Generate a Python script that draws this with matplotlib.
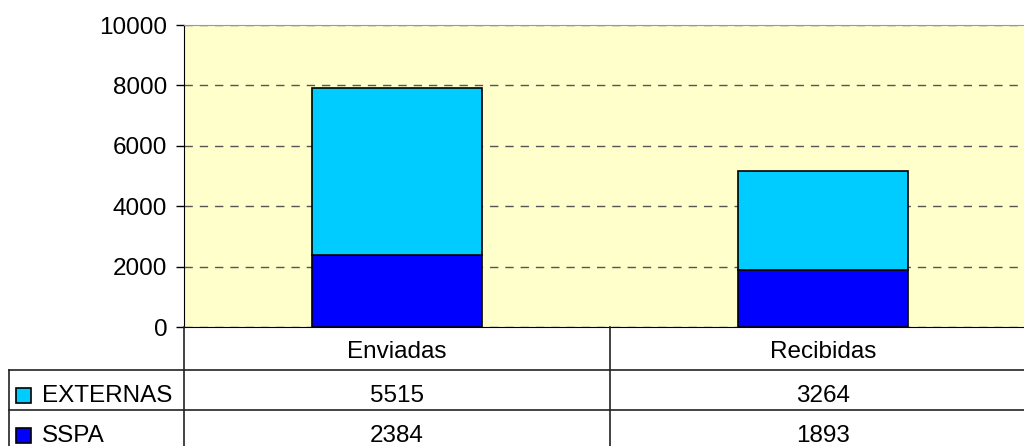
import matplotlib.pyplot as plt
from matplotlib.patches import Rectangle

plt.rcParams['font.family'] = ['Liberation Sans', 'DejaVu Sans']

categories = ['Enviadas', 'Recibidas']
series_names = ['EXTERNAS', 'SSPA']
externas = [5515, 3264]
sspa = [2384, 1893]
yticks = [0, 2000, 4000, 6000, 8000, 10000]

c_ext = '#00CCFF'
c_sspa = '#0000FF'
bg = '#FFFFCC'
fs = 17.5

W, H = 1024, 446
fig = plt.figure(figsize=(W / 100, H / 100), dpi=100)

# plot area in pixels: x 184..1036 (runs past the right edge), y 25..327
right = 1036
ax = fig.add_axes([184 / W, (H - 327) / H, (right - 184) / W, (327 - 25) / H])
ax.set_facecolor(bg)
x = list(range(len(categories)))
ax.bar(x, sspa, width=0.40, color=c_sspa, edgecolor='black', linewidth=1.2, zorder=3)
ax.bar(x, externas, width=0.40, bottom=sspa, color=c_ext, edgecolor='black',
       linewidth=1.2, zorder=3)
ax.set_xlim(-0.5, len(categories) - 0.5)
ax.set_ylim(0, 10000)
ax.set_yticks(yticks)
ax.set_yticklabels([str(t) for t in yticks], fontsize=fs)
ax.set_xticks([])
ax.yaxis.grid(True, linestyle=(0, (6, 5)), color='#555555', linewidth=1)
ax.set_axisbelow(True)
ax.tick_params(axis='y', length=6, width=1, direction='out', pad=6)
ax.spines['right'].set_visible(False)
ax.spines['top'].set_color('#999999')
ax.spines['left'].set_color('black')
ax.spines['bottom'].set_color('black')

# data table below the plot, drawn in pixel coordinates
tab = fig.add_axes([0, 0, 1, 1], facecolor='none')
tab.set_xlim(0, W)
tab.set_ylim(H, 0)
tab.axis('off')

col_edges = [184, 610, right]
lc = '#222222'
tab.plot([184, 184], [327, H], color=lc, lw=1.2)
tab.plot([610, 610], [327, H], color=lc, lw=1.2)
tab.plot([9, 9], [370, H], color=lc, lw=1.2)
tab.plot([9, W], [370, 370], color=lc, lw=1.2)
tab.plot([9, W], [410, 410], color=lc, lw=1.2)

for j, cat in enumerate(categories):
    cx = (col_edges[j] + col_edges[j + 1]) / 2
    tab.text(cx, 358, cat, ha='center', va='baseline', fontsize=fs)

rows = [externas, sspa]
colors = [c_ext, c_sspa]
row_base = [402, 442]
for name, vals, col, by in zip(series_names, rows, colors, row_base):
    tab.add_patch(Rectangle((16, by - 14), 15, 15, facecolor=col,
                            edgecolor='black', lw=1.2))
    tab.text(42, by, name, ha='left', va='baseline', fontsize=fs)
    for j, v in enumerate(vals):
        cx = (col_edges[j] + col_edges[j + 1]) / 2
        tab.text(cx, by, str(v), ha='center', va='baseline', fontsize=fs)

fig.savefig('out.png', dpi=100)
